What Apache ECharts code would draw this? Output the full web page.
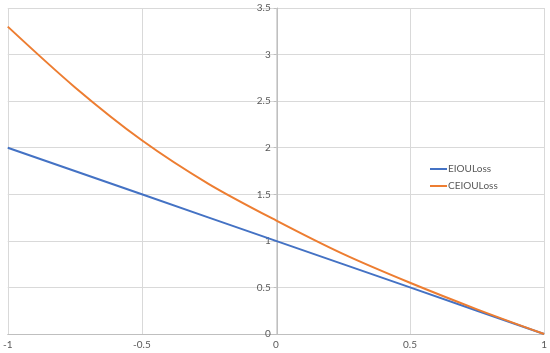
<!DOCTYPE html>
<html>
<head>
<meta charset="utf-8">
<script src="https://cdn.jsdelivr.net/npm/echarts@6/dist/echarts.min.js"></script>
<style>html,body{margin:0;padding:0;background:#fff}#c{width:550px;height:353px}</style>
</head>
<body>
<div id="c"></div>
<script>
const xValues = [-1, -0.75, -0.5, -0.25, 0, 0.25, 0.5, 0.75, 1];
const eiouLoss = [2, 1.75, 1.5, 1.25, 1, 0.75, 0.5, 0.25, 0];
const ceiouLoss = [3.3, 2.65, 2.08, 1.61, 1.22, 0.86, 0.55, 0.265, 0];
const seriesNames = ['EIOULoss', 'CEIOULoss'];
const seriesColors = ['#4472C4', '#ED7D31'];

const chart = echarts.init(document.getElementById('c'), null, {renderer: 'canvas'});
const font = 'Lato, "Noto Sans", sans-serif';
const gridLeft = 7, gridRight = 5, W = 550;
const zeroOffset = -((W - gridLeft - gridRight) / 2);
chart.setOption({
  animation: false,
  backgroundColor: '#fff',
  grid: {left: gridLeft, right: gridRight, top: 8, bottom: 19, containLabel: false},
  legend: {
    left: 425, top: 159, orient: 'vertical', itemGap: 7,
    itemWidth: 17, itemHeight: 2, icon: 'rect',
    textStyle: {color: '#595959', fontSize: 10, fontFamily: font, padding: [0,0,0,-4]},
    data: seriesNames
  },
  xAxis: {
    type: 'value', min: -1, max: 1, interval: 0.5,
    axisLine: {show: true, onZero: true, lineStyle: {color: '#bfbfbf', width: 1}},
    axisTick: {show: false},
    axisLabel: {color: '#595959', fontSize: 10, fontFamily: font, margin: 6},
    splitLine: {show: true, lineStyle: {color: '#d9d9d9', width: 1}}
  },
  yAxis: {
    type: 'value', min: 0, max: 3.5, interval: 0.5,
    position: 'left', offset: zeroOffset,
    axisLine: {show: true, onZero: false, lineStyle: {color: '#bfbfbf', width: 1}},
    axisTick: {show: true, length: 3, lineStyle: {color: '#bfbfbf'}},
    axisLabel: {color: '#595959', fontSize: 10, fontFamily: font, margin: 6},
    splitLine: {show: true, lineStyle: {color: '#d9d9d9', width: 1}}
  },
  series: [
    {name: seriesNames[0], type: 'line', smooth: false, showSymbol: false, symbol: 'none',
     color: seriesColors[0], lineStyle: {width: 2, color: seriesColors[0]},
     data: xValues.map((x, i) => [x, eiouLoss[i]])},
    {name: seriesNames[1], type: 'line', smooth: 0.3, showSymbol: false, symbol: 'none',
     color: seriesColors[1], lineStyle: {width: 2, color: seriesColors[1]},
     data: xValues.map((x, i) => [x, ceiouLoss[i]])}
  ]
});
</script>
</body>
</html>
